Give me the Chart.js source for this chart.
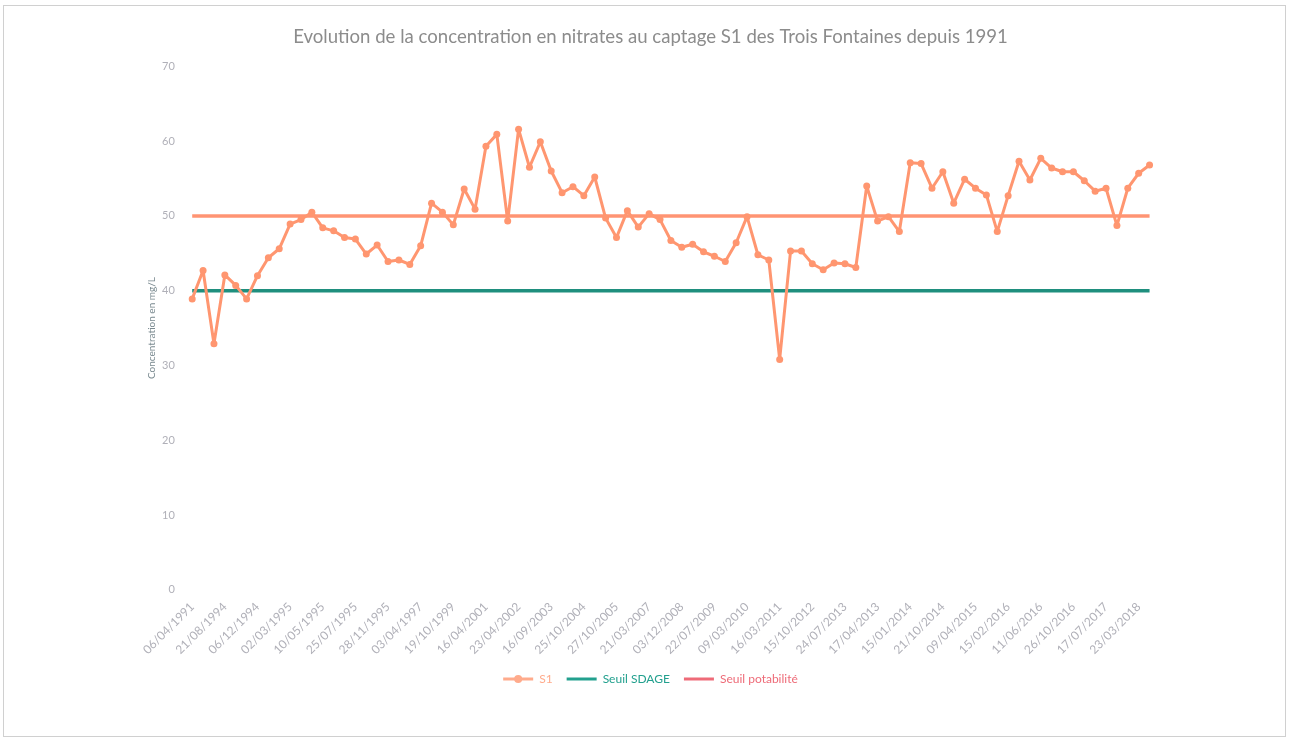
<!DOCTYPE html>
<html>
<head>
<meta charset="utf-8">
<script src="https://cdn.jsdelivr.net/npm/chart.js@4"></script>
<style>
    html, body { margin: 0; padding: 0; background: #fff; }
    #frame {
        position: absolute;
        left: 3px; top: 5px;
        width: 1281px; height: 730px;
        border: 1px solid #d0d0d0;
    }
    #wrap { position: absolute; left: 0; top: 0; width: 1293px; height: 739px; }
</style>
</head>
<body>
<div id="frame"></div>
<div id="wrap"><canvas id="nitrateChart"></canvas></div>
<script>
    // tick labels, one every 3 samples
    const tickLabels = [
        "06/04/1991", "21/08/1994", "06/12/1994", "02/03/1995", "10/05/1995",
        "25/07/1995", "28/11/1995", "03/04/1997", "19/10/1999", "16/04/2001",
        "23/04/2002", "16/09/2003", "25/10/2004", "27/10/2005", "21/03/2007",
        "03/12/2008", "22/07/2009", "09/03/2010", "16/03/2011", "15/10/2012",
        "24/07/2013", "17/04/2013", "15/01/2014", "21/10/2014", "09/04/2015",
        "15/02/2016", "11/06/2016", "26/10/2016", "17/07/2017", "23/03/2018"
    ];

    // nitrates S1 (mg/L)
    const s1Values = [
        38.9, 42.7, 32.9, 42.1, 40.7, 38.9, 42.0, 44.4, 45.6, 48.9,
        49.5, 50.5, 48.4, 48.0, 47.1, 46.9, 44.9, 46.1, 43.9, 44.1,
        43.5, 46.0, 51.7, 50.5, 48.8, 53.6, 50.9, 59.3, 60.9, 49.3,
        61.6, 56.5, 59.9, 56.0, 53.1, 53.9, 52.7, 55.2, 49.7, 47.1,
        50.7, 48.5, 50.3, 49.5, 46.7, 45.8, 46.2, 45.2, 44.6, 43.9,
        46.4, 49.9, 44.8, 44.1, 30.8, 45.3, 45.3, 43.6, 42.8, 43.7,
        43.6, 43.1, 54.0, 49.3, 49.9, 47.9, 57.1, 57.0, 53.7, 55.9,
        51.7, 54.9, 53.7, 52.8, 47.9, 52.7, 57.3, 54.8, 57.7, 56.4,
        55.9, 55.9, 54.7, 53.3, 53.7, 48.7, 53.7, 55.7, 56.8
    ];

    const seuilSdage = 40;
    const seuilPotabilite = 50;

    const seriesNames = ["S1", "Seuil SDAGE", "Seuil potabilité"];
    const lineColors = ["#ff9670", "#1f8f7e", "#ff9473"];
    const legendColors = ["#ffab8c", "#22a08e", "#ee6b78"];

    const labels = s1Values.map((_, i) => (i % 3 === 0 ? tickLabels[i / 3] : ""));

    const FONT = "Lato, 'Open Sans', sans-serif";

    // draws the marker dot on the S1 legend entry
    const legendMarker = {
        id: "legendMarker",
        afterDraw(chart) {
            const box = chart.legend?.legendHitBoxes?.[0];
            if (!box) return;
            const bw = chart.legend.options.labels.boxWidth;
            const ctx = chart.ctx;
            ctx.save();
            ctx.fillStyle = legendColors[0];
            ctx.beginPath();
            ctx.arc(box.left + bw / 2, box.top + box.height / 2, 4, 0, Math.PI * 2);
            ctx.fill();
            ctx.restore();
        }
    };

    new Chart(document.getElementById("nitrateChart"), {
        type: "line",
        data: {
            labels,
            datasets: [
                {
                    label: seriesNames[0],
                    data: s1Values,
                    borderColor: lineColors[0],
                    backgroundColor: lineColors[0],
                    borderWidth: 3,
                    borderJoinStyle: "round",
                    pointRadius: 3.5,
                    pointBorderWidth: 0,
                    tension: 0
                },
                {
                    label: seriesNames[1],
                    data: s1Values.map(() => seuilSdage),
                    borderColor: lineColors[1],
                    backgroundColor: lineColors[1],
                    borderWidth: 3.5,
                    pointRadius: 0
                },
                {
                    label: seriesNames[2],
                    data: s1Values.map(() => seuilPotabilite),
                    borderColor: lineColors[2],
                    backgroundColor: lineColors[2],
                    borderWidth: 3.5,
                    pointRadius: 0
                }
            ]
        },
        options: {
            responsive: true,
            maintainAspectRatio: false,
            animation: false,
            layout: { padding: { left: 146, right: 138, top: 22, bottom: 44 } },
            plugins: {
                title: {
                    display: true,
                    text: "Evolution de la concentration en nitrates au captage S1 des Trois Fontaines depuis 1991",
                    color: "#8c8c8c",
                    font: { family: FONT, size: 18.6, weight: "normal" },
                    padding: { top: 4, bottom: 18 }
                },
                legend: {
                    position: "bottom",
                    labels: {
                        boxWidth: 30,
                        boxHeight: 3,
                        color: "#a0a0a0",
                        font: { family: FONT, size: 12 },
                        padding: 14,
                        generateLabels(chart) {
                            const items = Chart.defaults.plugins.legend.labels.generateLabels(chart);
                            items.forEach((it) => {
                                const c = legendColors[it.datasetIndex];
                                it.fillStyle = c;
                                it.strokeStyle = c;
                                it.lineWidth = 0;
                                it.fontColor = c;
                            });
                            return items;
                        }
                    }
                },
                tooltip: { enabled: false }
            },
            scales: {
                x: {
                    offset: true,
                    grid: { display: false },
                    border: { display: false },
                    ticks: {
                        autoSkip: false,
                        minRotation: 45,
                        maxRotation: 45,
                        color: "#b0b0b8",
                        font: { family: FONT, size: 12 },
                        padding: 2
                    }
                },
                y: {
                    min: 0,
                    max: 70,
                    grid: { display: false },
                    border: { display: false },
                    ticks: {
                        stepSize: 10,
                        color: "#b0b0b8",
                        font: { family: FONT, size: 11 },
                        padding: 4
                    },
                    title: {
                        display: true,
                        text: "Concentration en mg/L",
                        color: "#7a8a90",
                        font: { family: FONT, size: 10 },
                        padding: 0
                    }
                }
            }
        },
        plugins: [legendMarker]
    });
</script>
</body>
</html>
